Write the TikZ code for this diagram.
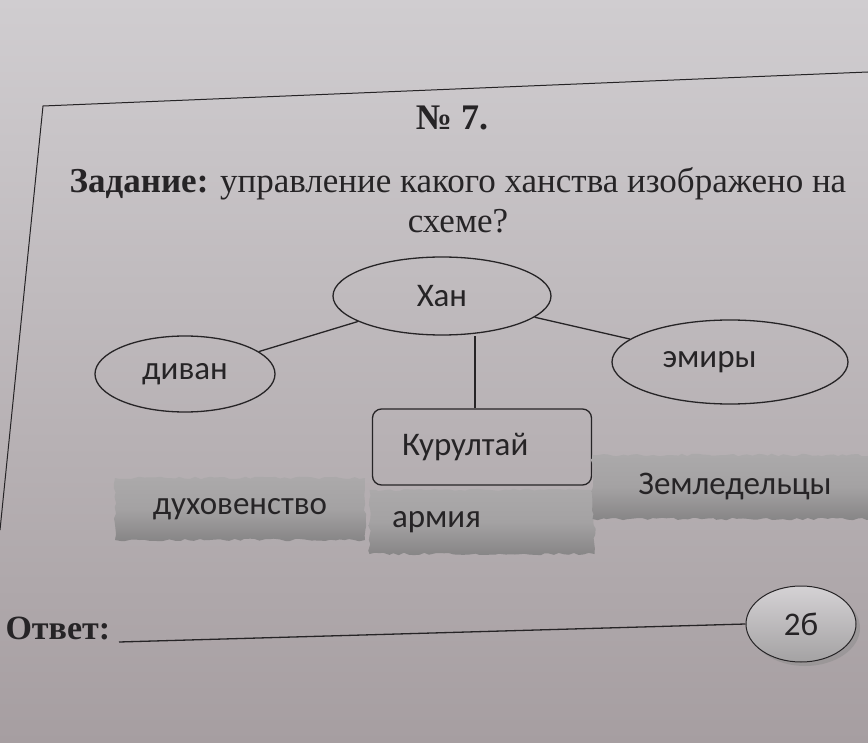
\documentclass[tikz,border=0pt]{standalone}
\usepackage{fontspec}
\setmainfont{Liberation Serif}
\newfontfamily\schemefont{Carlito}
\usetikzlibrary{shapes.geometric, positioning, calc, decorations.pathmorphing}
\definecolor{pagegray}{RGB}{208, 205, 208}
\definecolor{pagedark}{RGB}{166, 158, 161}
\definecolor{stripgray}{RGB}{164, 162, 163}
\definecolor{inkblack}{RGB}{38, 36, 38}

\begin{document}
\begin{tikzpicture}[x=1pt, y=-1pt,
  schemetext/.style={font=\schemefont\fontsize{33}{36}\selectfont, text=inkblack},
  oval/.style={schemetext, draw=inkblack, line width=1.3pt, ellipse, inner sep=0pt},
  council/.style={schemetext, draw=inkblack, line width=1.3pt, rounded corners=9pt,
    minimum width=219, minimum height=76},
  strip/.style={schemetext, top color=stripgray!92!white, bottom color=stripgray!82!black,
    middle color=stripgray, decorate, decoration={random steps, segment length=5pt, amplitude=1.3pt}},
  link/.style={draw=inkblack, line width=1.3pt}
]
  \useasboundingbox (0,0) rectangle (868,743);
  \fill[top color=pagegray, bottom color=pagedark] (0,0) rectangle (868,743);

  % frame of the task
  \draw[inkblack, line width=1pt] (868,72) -- (43,106) -- (0,530);

  \node[text=inkblack, font=\bfseries\fontsize{36}{40}\selectfont] (num) at (452,118) {№ 7.};
  \node[text=inkblack, font=\fontsize{35}{40}\selectfont, align=center] (task) at (458,200)
    {\textbf{Задание:} управление какого ханства изображено на\\схеме?};

  % scheme
  \node[oval, minimum width=218, minimum height=78] (khan) at (442,296) {Хан};
  \node[oval, minimum width=180, minimum height=76] (divan) at (185,374) {диван};
  \node[oval, minimum width=236, minimum height=84, text width=135, align=left] (emirs) at (730,362) {эмиры};
  \node[council, text width=160, align=left] (kurultai) at (482,447) {Курултай};

  \draw[link] (divan) -- (khan);
  \draw[link] (khan) -- (emirs);
  \draw[link] ([xshift=-7]kurultai.north) -- ([xshift=-7]kurultai.north |- khan.south);

  \node[strip, minimum width=250, minimum height=62] (clergy) at (240,509) {духовенство};
  \node[strip, minimum width=225, minimum height=64, text width=180, align=left] (army) at (482,522) {армия};
  \node[strip, minimum width=285, minimum height=64] (farmers) at (735,487) {Земледельцы};

  % answer
  \node[text=inkblack, font=\bfseries\fontsize{34}{38}\selectfont, anchor=west] (answer) at (2,628) {Ответ:};
  \fill[black!45, opacity=0.5] (805,628) ellipse (55 and 38);
  \node[ellipse, draw=inkblack, line width=1pt, top color=pagegray!90!white, bottom color=stripgray,
    minimum width=110, minimum height=76, inner sep=0pt, schemetext] (score) at (801,624) {2б};
  \coordinate (blank) at (119,642);
  \draw[inkblack, line width=1.3pt] (blank) -- (score.west);
\end{tikzpicture}
\end{document}
